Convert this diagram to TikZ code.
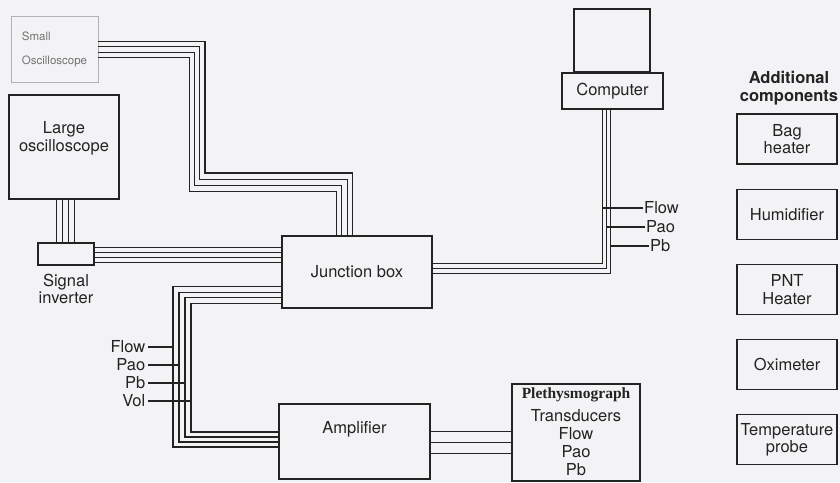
\documentclass[tikz,border=0pt]{standalone}
\usepackage{fontspec}
\setmainfont{TeX Gyre Heros}
\newfontfamily\plfont{Liberation Serif}
\usetikzlibrary{positioning,calc}
\definecolor{paper}{RGB}{243,243,245}
\definecolor{ink}{RGB}{35,35,35}
\tikzset{
  fx/.style={x=1pt, y=-1pt, font=\fontsize{16.5}{17.5}\selectfont, text=ink},
  c box/.style={draw=ink, line width=1.2pt, align=center, inner sep=1pt},
  c side/.style={c box, minimum width=100pt, minimum height=50pt},
  c osc/.style={draw=black!30, line width=0.8pt, align=left, text=black!55, font=\fontsize{11.5}{24}\selectfont},
  c plet/.style={c box, line width=2pt, font=\fontsize{16.5}{18}\selectfont},
  c title/.style={font=\fontsize{16.5}{18}\selectfont\bfseries, align=center},
  c tag/.style={inner sep=2.5pt},
  c wire/.style={draw=ink, line width=1.1pt},
}
\begin{document}
\begin{tikzpicture}[fx]
\useasboundingbox (0,0) rectangle (840,482);
\fill[paper] (0,0) rectangle (840,482);
\node[c osc, minimum width=87pt, minimum height=66pt] (so) at (54.5,49) {Small\\Oscilloscope};
\node[c box, minimum width=110pt, minimum height=104pt] (lo) at (64,147) {Large\\oscilloscope\\[4pt]};
\node[c box, minimum width=56pt, minimum height=22pt] (si) at (66,254) {};
\node[below=5pt of si, align=center] (sil) {Signal\\inverter};
\node[c box, minimum width=150pt, minimum height=72pt] (jb) at (357,272) {Junction box};
\node[c box, minimum width=151pt, minimum height=75pt] (amp) at (354.5,441.5) {};
\node (ampl) at ([yshift=12pt]amp.center) {Amplifier};
\node[c plet, minimum width=128pt, minimum height=97pt] (pl) at (576,432) {{\plfont\fontsize{15.5}{17}\selectfont\bfseries Plethysmograph}\\[5pt]Transducers\\Flow\\Pao\\Pb};
\node[c box, minimum width=76pt, minimum height=63pt] (mon) at (612,40.5) {};
\node[c box, minimum width=101pt, minimum height=36pt] (co) at (612.5,91) {Computer};
\node[c title] (add) at (789,88) {Additional\\components};
\node[c side] (bh) at (787,139) {Bag\\heater};
\node[c side, below=24pt of bh] (hu) {Humidifier};
\node[c side, below=24pt of hu] (pn) {PNT\\Heater};
\node[c side, below=24pt of pn] (ox) {Oximeter};
\node[c side, below=24pt of ox] (tp) {Temperature\\probe};
\foreach \i in {0,...,3}
  \draw[c wire] ($(so.north east)+(0,{26+5.3*\i})$) -| ({205-5.3*\i},{173+6.3*\i}) -| ($(jb.north west)+({71-5.3*\i},0)$);
\foreach \i in {0,...,3}
  \draw[c wire] ($(lo.south west)+({48+6*\i},0)$) coordinate (t) -- (t |- si.north);
\foreach \i in {0,...,3}
  \draw[c wire] ($(si.north east)+(0,{5+5*\i})$) coordinate (t) -- (t -| jb.west);
\foreach \i in {0,...,3}
  \draw[c wire] ($(jb.north west)+(0,{51+5.7*\i})$) -| ({173+6*\i},{447-5*\i}) coordinate (v\i) -- (v\i -| amp.west);
\foreach \i in {0,...,2}
  \draw[c wire] ($(co.south west)+({41+4*\i},0)$) coordinate (k\i) |- ($(jb.north east)+(0,{28+5*\i})$);
\foreach \i in {0,...,2}
  \draw[c wire] ($(amp.north east)+(0,{28+11*\i})$) coordinate (t) -- (t -| pl.west);
\node[c tag, anchor=east] (lflow) at (148,347) {Flow};
\node[c tag, anchor=east] (lpao) at (148,365) {Pao};
\node[c tag, anchor=east] (lpb) at (148,383) {Pb};
\node[c tag, anchor=east] (lvol) at (148,401) {Vol};
\draw[c wire] (lflow.east) -- (lflow.east -| v0);
\draw[c wire] (lpao.east) -- (lpao.east -| v1);
\draw[c wire] (lpb.east) -- (lpb.east -| v2);
\draw[c wire] (lvol.east) -- (lvol.east -| v3);
\node[c tag, anchor=west, inner sep=1pt] (rflow) at (643,208) {Flow};
\node[c tag, anchor=west, inner sep=1pt] (rpao) at (645,227) {Pao};
\node[c tag, anchor=west, inner sep=1pt] (rpb) at (649,246) {Pb};
\draw[c wire] (rflow.west) -- (rflow.west -| k0);
\draw[c wire] (rpao.west) -- (rpao.west -| k1);
\draw[c wire] (rpb.west) -- (rpb.west -| k2);
\end{tikzpicture}
\end{document}
